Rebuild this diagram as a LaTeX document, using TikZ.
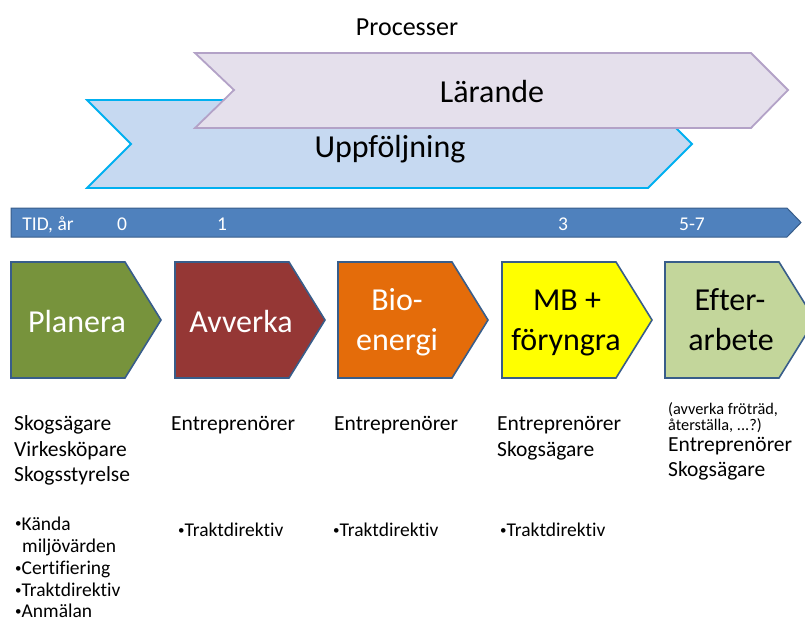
\documentclass[tikz,border=0pt]{standalone}
\usepackage{fontspec}
\setmainfont[Ligatures={NoCommon}]{Carlito}
\definecolor{edgeblue}{HTML}{385D8A}
\definecolor{timeblue}{HTML}{4F81BD}
\definecolor{followfill}{HTML}{C6D9F1}
\definecolor{followedge}{HTML}{00B0F0}
\definecolor{learnfill}{HTML}{E5E0EC}
\definecolor{learnedge}{HTML}{B3A2C7}
\definecolor{planfill}{HTML}{77933C}
\definecolor{fellfill}{HTML}{953735}
\definecolor{biofill}{HTML}{E46C0A}
\definecolor{mbfill}{HTML}{FFFF00}
\definecolor{afterfill}{HTML}{C3D69B}
\newcommand\smallbullet{\raisebox{2.2pt}{\fontsize{13}{13}\selectfont •}}
\tikzset{
  stagebox/.style={draw=edgeblue, line width=1.6pt, line join=miter},
  bigtxt/.style={font=\fontsize{32}{40}\selectfont, anchor=base, inner sep=0pt},
  tltxt/.style={font=\fontsize{19.5}{23}\selectfont, text=white, anchor=base, inner sep=0pt},
  roletxt/.style={font=\fontsize{21.5}{26}\selectfont, anchor=base west, inner sep=0pt},
  bullettxt/.style={font=\fontsize{19.5}{23}\selectfont, anchor=base west, inner sep=0pt},
  notetxt/.style={font=\fontsize{16.3}{19}\selectfont, anchor=base west, inner sep=0pt},
}
\begin{document}
\begin{tikzpicture}[x=1pt, y=-1pt]
\useasboundingbox (0,0) rectangle (805,621);
\clip (0,0) rectangle (805,621);

% processes
\node[font=\fontsize{26}{30}\selectfont, anchor=base, inner sep=0pt] (proc) at (407,35) {Processer};

\draw[fill=followfill, draw=followedge, line width=1.8pt]
  (87,100) -- (648,100) -- (692,144) -- (648,188) -- (87,188) -- (131,144) -- cycle;
\draw[fill=learnfill, draw=learnedge, line width=1.8pt]
  (195,53) -- (751,53) -- (788,90) -- (751,128) -- (195,128) -- (234,90) -- cycle;
\node[bigtxt] (learn) at (492,102) {Lärande};
\node[bigtxt] (follow) at (390,157) {Uppföljning};

% time axis
\draw[fill=timeblue, draw=edgeblue, line width=1pt]
  (11,208) -- (787,208) -- (801,222.5) -- (787,237) -- (11,237) -- cycle;
\node[tltxt] (tid) at (48,230) {TID, år};
\node[tltxt] (t0) at (122,230) {0};
\node[tltxt] (t1) at (222,230) {1};
\node[tltxt] (t3) at (563,230) {3};
\node[tltxt] (t57) at (692,230) {5-7};

% stages
\foreach \x/\c in {11/planfill, 175/fellfill, 338/biofill, 502/mbfill, 665/afterfill}
  \draw[stagebox, fill=\c] (\x,262) -- ++(114,0) -- ++(36,58) -- ++(-36,58) -- ++(-114,0) -- cycle;

\node[bigtxt, text=white] (plan) at (77,332) {Planera};
\node[bigtxt, text=white] (fell) at (241,332) {Avverka};
\node[bigtxt, text=white] (bioA) at (397,310) {Bio-};
\node[bigtxt, text=white] (bioB) at (397,350) {energi};
\node[bigtxt] (mbA) at (567,310) {MB +};
\node[bigtxt] (mbB) at (566,350) {föryngra};
\node[bigtxt] (aftA) at (730,310) {Efter-};
\node[bigtxt] (aftB) at (731,350) {arbete};

% actors
\node[roletxt] (r1a) at (14,430) {Skogsägare};
\node[roletxt] (r1b) at (14,456) {Virkesköpare};
\node[roletxt] (r1c) at (14,481.5) {Skogsstyrelse};
\node[roletxt] (r2a) at (171,430) {Entreprenörer};
\node[roletxt] (r3a) at (334,430) {Entreprenörer};
\node[roletxt] (r4a) at (497,430) {Entreprenörer};
\node[roletxt] (r4b) at (497,456) {Skogsägare};
\node[notetxt] (n5a) at (668,414) {(avverka fröträd,};
\node[notetxt] (n5b) at (668,430.5) {återställa, ...?)};
\node[roletxt] (r5a) at (668,451) {Entreprenörer};
\node[roletxt] (r5b) at (668,476) {Skogsägare};

% documents
\node[bullettxt] (b1a) at (15,530) {\smallbullet Kända};
\node[bullettxt] (b1b) at (22,552.5) {miljövärden};
\node[bullettxt] (b1c) at (15,574.5) {\smallbullet Certifiering};
\node[bullettxt] (b1d) at (15,596.5) {\smallbullet Traktdirektiv};
\node[bullettxt] (b1e) at (15,617.5) {\smallbullet Anmälan};
\node[bullettxt] (b2) at (178,536.5) {\smallbullet Traktdirektiv};
\node[bullettxt] (b3) at (333,536.5) {\smallbullet Traktdirektiv};
\node[bullettxt] (b4) at (500,536.5) {\smallbullet Traktdirektiv};
\end{tikzpicture}
\end{document}
